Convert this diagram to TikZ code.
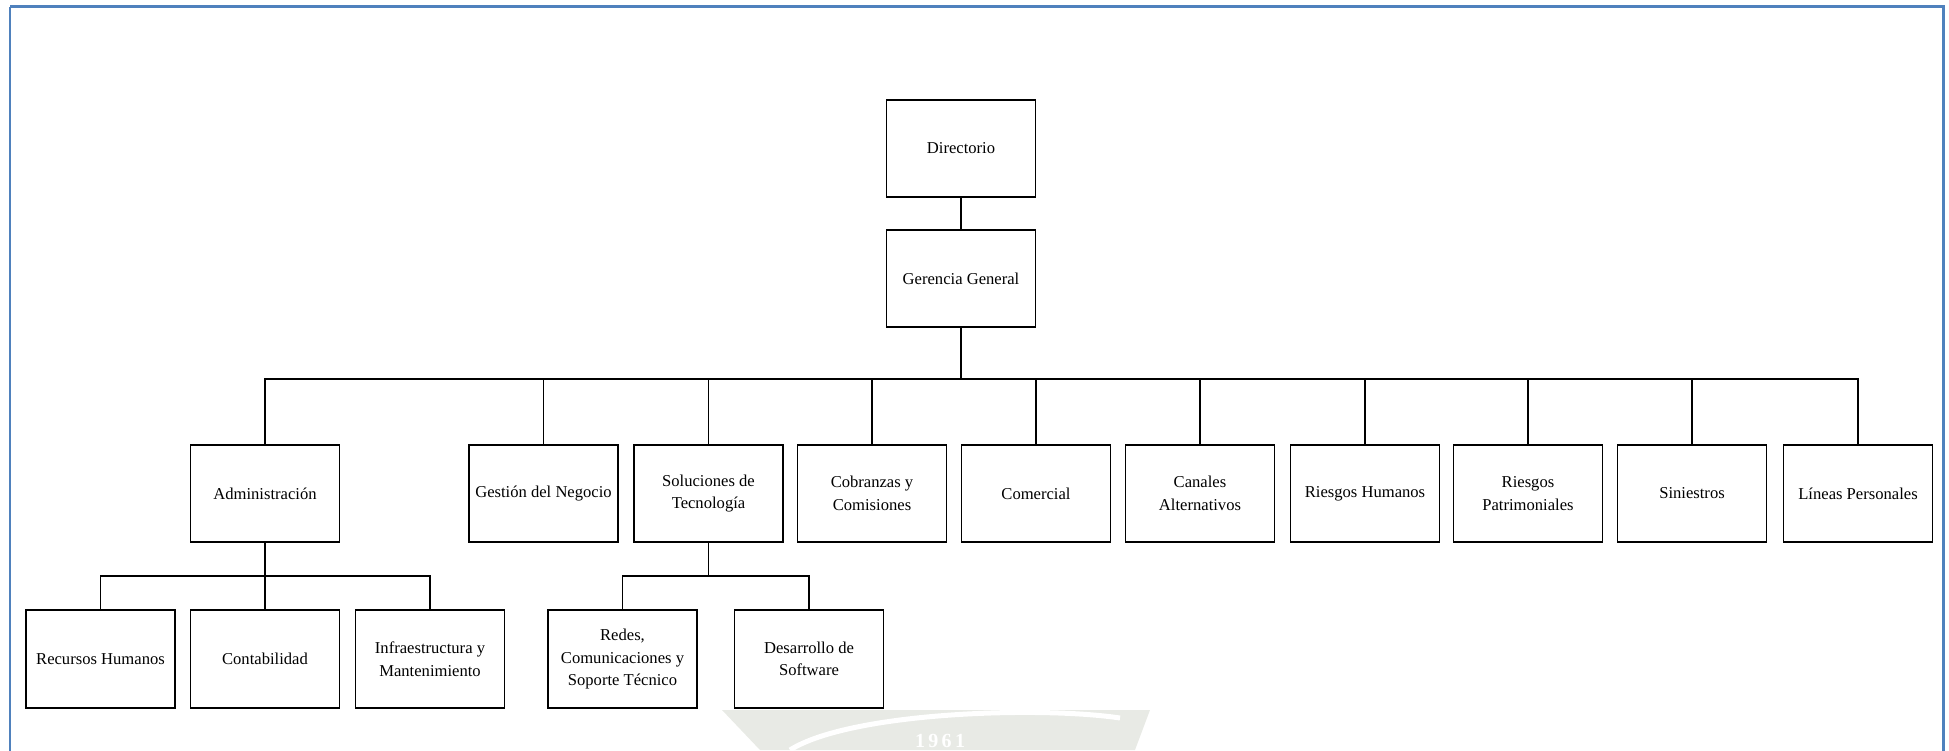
\documentclass[tikz,border=0pt]{standalone}
\usepackage{fontspec}
\setmainfont{Liberation Serif}
\definecolor{framecol}{RGB}{79,129,189}
\definecolor{markcol}{RGB}{232,234,229}
\begin{document}
\begin{tikzpicture}[x=1pt,y=-1pt,
  unit/.style={draw=black, line width=1.8pt, minimum width=149pt, minimum height=97.5pt,
    align=center, inner sep=2pt, font=\fontsize{16.6}{22.5}\selectfont},
  link/.style={line width=1.8pt, draw=black},
  frame/.style={draw=framecol, line width=2.6pt}]
\useasboundingbox (0,0) rectangle (1949,750);

% faint emblem at the lower edge
\fill[markcol] (722,710) -- (1150,710) -- (1135,750) -- (760,750) -- cycle;
\draw[white, line width=5pt] (790,750) .. controls (850,712) and (1040,706) .. (1120,718);
\node[text=white, font=\fontsize{20}{20}\selectfont\bfseries, inner sep=0pt, anchor=south] (year) at (940,748) {1\,9\,6\,1};

% page frame
\draw[frame] (10,6.5) -- (1943.5,6.5) -- (1943.5,780);
\draw[frame] (10,6.5) -- (10,780);

% top of the chart
\node[unit] (dir) at (961,148.5) {Directorio};
\node[unit] (ger) at (961,278.5) {Gerencia General};

% second level
\node[unit] (adm) at (265,493.5)  {Administración};
\node[unit] (ges) at (543.5,493.5) {Gestión del Negocio};
\node[unit] (sol) at (708.5,493.5) {Soluciones de\\Tecnología};
\node[unit] (cob) at (872,493.5)  {Cobranzas y\\Comisiones};
\node[unit] (com) at (1036,493.5) {Comercial};
\node[unit] (can) at (1200,493.5) {Canales\\Alternativos};
\node[unit] (rh)  at (1365,493.5) {Riesgos Humanos};
\node[unit] (rp)  at (1528,493.5) {Riesgos\\Patrimoniales};
\node[unit] (sin) at (1692,493.5) {Siniestros};
\node[unit] (lin) at (1858,493.5) {Líneas Personales};

% third level
\node[unit] (rrhh) at (100.5,659) {Recursos Humanos};
\node[unit] (cont) at (265,659)   {Contabilidad};
\node[unit] (infr) at (430,659)   {Infraestructura y\\Mantenimiento};
\node[unit] (red)  at (622.5,659) {Redes,\\Comunicaciones y\\Soporte Técnico};
\node[unit] (des)  at (809,659)   {Desarrollo de\\Software};

% branching points
\coordinate (busG) at (961,379);
\coordinate (busA) at (265,576);
\coordinate (busS) at (708.5,576);

% connectors
\draw[link] (dir.south) -- (ger.north);
\foreach \c in {adm,ges,sol,cob,com,can,rh,rp,sin,lin}
  \draw[link] (ger.south) -- (busG) -| (\c.north);
\foreach \c in {rrhh,cont,infr}
  \draw[link] (adm.south) -- (busA) -| (\c.north);
\foreach \c in {red,des}
  \draw[link] (sol.south) -- (busS) -| (\c.north);
\end{tikzpicture}
\end{document}
